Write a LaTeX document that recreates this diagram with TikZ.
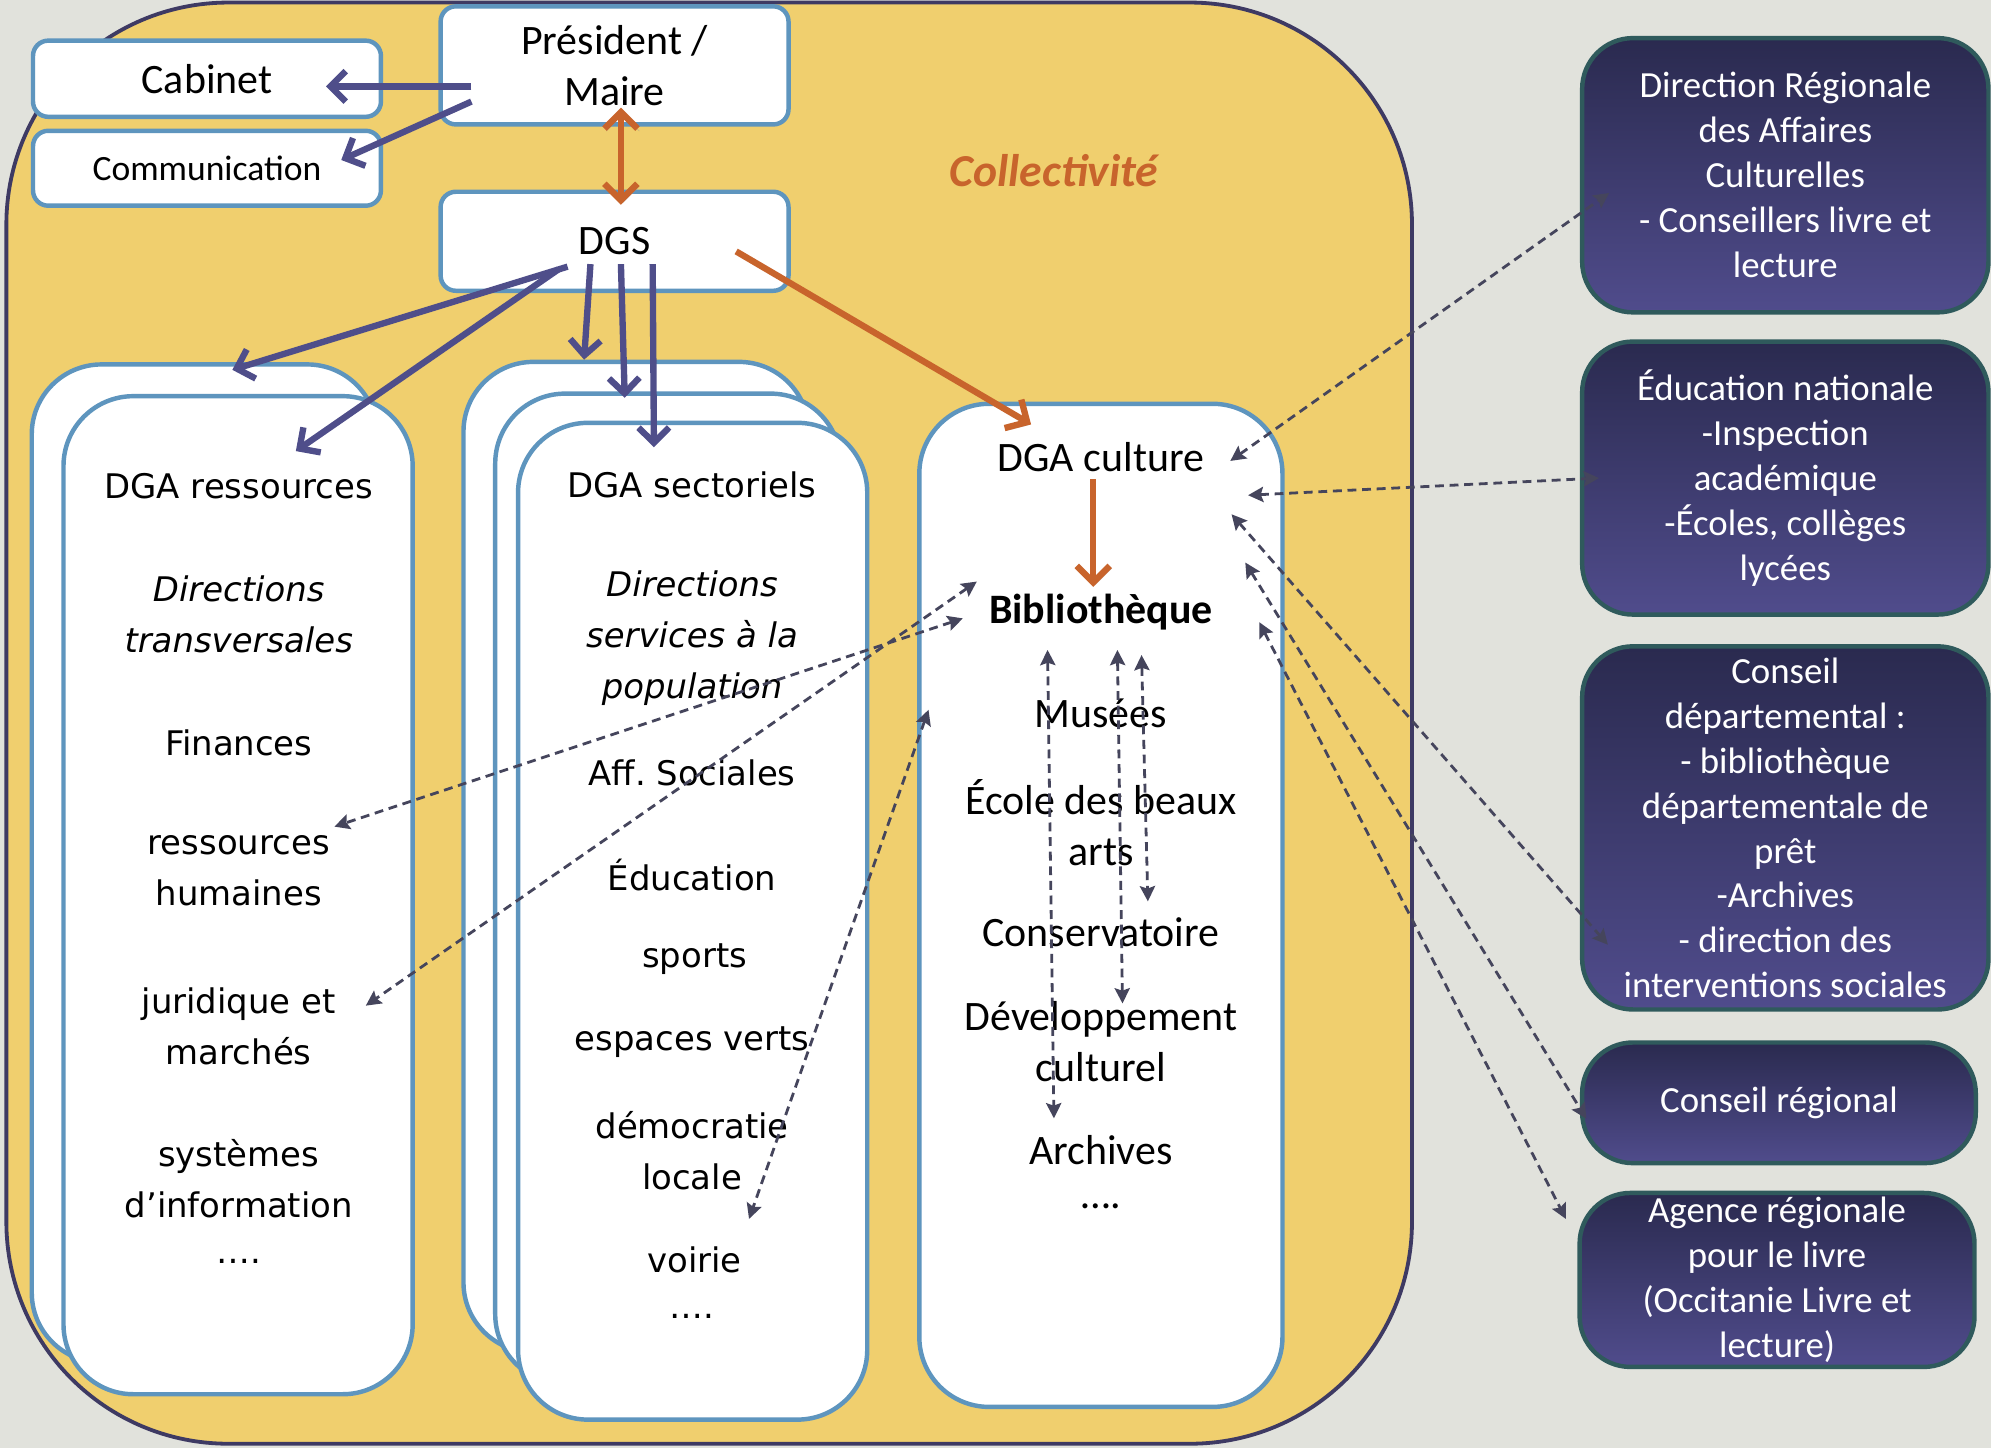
\documentclass[tikz,border=0pt]{standalone}
\usepackage{fontspec}
\setmainfont{Carlito}
\newfontfamily\verdfont{DejaVu Sans}
\usetikzlibrary{arrows.meta}
\begin{document}
\begin{tikzpicture}[x=1pt,y=-1pt,line join=round]
	\definecolor{fond}{RGB}{225,226,220}
	\definecolor{jaune}{RGB}{240,207,110}
	\definecolor{encre}{RGB}{62,58,99}
	\definecolor{cadre}{RGB}{94,149,190}
	\definecolor{violet}{RGB}{79,78,138}
	\definecolor{cuivre}{RGB}{200,100,44}
	\definecolor{tiret}{RGB}{69,69,92}
	\definecolor{nuitA}{RGB}{42,42,79}
	\definecolor{nuitB}{RGB}{80,76,140}
	\definecolor{sarcelle}{RGB}{47,90,92}
	
	\def\fc{\fontsize{33}{40}\selectfont}
	\def\fv{\verdfont\fontsize{26.7}{40}\selectfont}
	\def\fd{\fontsize{29}{35.4}\selectfont}
	
	\tikzset{
		barbe/.tip={Straight Barb[length=12pt,width=24pt]},
		barbec/.tip={Straight Barb[length=13pt,width=26pt]},
		fer/.tip={Stealth[length=12pt,width=12pt,inset=2pt]},
		boite/.style={draw=cadre,line width=3.5pt,fill=white,rounded corners=12pt},
		colonne/.style={draw=cadre,line width=3.5pt,fill=white,rounded corners=55pt,inner sep=0pt},
		externe/.style={draw=sarcelle,line width=3.5pt,top color=nuitA,bottom color=nuitB,
			rounded corners=40pt,text=white,font=\fd,align=center},
		item/.style={align=center,inner sep=5.5pt},
		fleche/.style={draw=violet,line width=5pt,-barbe},
		flechecuivre/.style={draw=cuivre,line width=5pt,-barbec,
			preaction={draw=black!40,opacity=.5,transform canvas={shift={(1.5pt,-2pt)}}}},
		lien/.style={draw=tiret,line width=2.2pt,dash pattern=on 7pt off 4.5pt,fer-fer}
	}
	
	% fond et collectivite
	\fill[fond] (0,0) rectangle (1568,1140);
	\useasboundingbox (0,0) rectangle (1568,1140);
	\draw[encre,line width=3pt,fill=jaune,rounded corners=175pt] (5,2) rectangle (1112,1137);
	\node[font=\fontsize{36}{40}\selectfont\bfseries\itshape,text=cuivre] (collec) at (830,134) {Collectivité};
	
	% direction
	\node[boite,minimum width=274pt,minimum height=93pt,font=\fc,align=center] (pres) at (484,51.5) {Président /\\Maire};
	\node[boite,minimum width=274pt,minimum height=60pt,font=\fc] (cab) at (163,62) {Cabinet};
	\node[boite,minimum width=274pt,minimum height=59pt,font=\fontsize{28}{34}\selectfont] (com) at (163,132.5) {Communication};
	\node[boite,minimum width=274pt,minimum height=78pt,font=\fc] (dgs) at (484,190) {DGS};
	
	% colonnes
	\node[colonne,minimum width=272pt,minimum height=786pt] (resB) at (161,680) {};
	\node[colonne,minimum width=275pt,minimum height=786pt] (resF) at (187.5,705) {};
	\node[colonne,minimum width=272pt,minimum height=780pt] (secB) at (501,675) {};
	\node[colonne,minimum width=272pt,minimum height=780pt] (secM) at (526,700) {};
	\node[colonne,minimum width=275pt,minimum height=785pt] (secF) at (545.5,725.5) {};
	\node[colonne,minimum width=286pt,minimum height=790pt] (cult) at (867,713) {};
	
	% DGA ressources
	\node[item,font=\fv] (resT) at (188,383) {DGA ressources};
	\node[item,font=\fv\itshape] (resD) at (188,484) {Directions\\transversales};
	\node[item,font=\fv] (fin) at (188,585) {Finances};
	\node[item,font=\fv] (rh) at (188,686) {ressources\\humaines};
	\node[item,font=\fv] (jur) at (188,808) {juridique et\\marchés};
	\node[item,font=\fv] (sys) at (188,928) {systèmes\\d’information};
	\node[item,font=\fv] (resP) at (188,993) {….};
	
	% DGA sectoriels
	\node[item,font=\fv] (secT) at (545,382) {DGA sectoriels};
	\node[item,font=\fv\itshape] (secD) at (545,502.5) {Directions\\services à la\\population};
	\node[item,font=\fv] (aff) at (545,609) {Aff.\ Sociales};
	\node[item,font=\fv] (edu) at (545,689) {Éducation};
	\node[item,font=\fv] (spo) at (547,755) {sports};
	\node[item,font=\fv] (esp) at (545,821) {espaces verts};
	\node[item,font=\fv] (dem) at (545,906) {démocratie\\locale};
	\node[item,font=\fv] (voi) at (547,992) {voirie};
	\node[item,font=\fv] (secP) at (545,1037) {….};
	
	% DGA culture
	\node[item,font=\fc] (cultT) at (867,360) {DGA culture};
	\node[item,font=\fc\bfseries] (biblio) at (867,482) {Bibliothèque};
	\node[item,font=\fc] (mus) at (867,562) {Musées};
	\node[item,font=\fc] (eba) at (867,648) {École des beaux\\arts};
	\node[item,font=\fc] (cons) at (867,734) {Conservatoire};
	\node[item,font=\fc] (dev) at (867,820) {Développement\\culturel};
	\node[item,font=\fc] (arch) at (867,906) {Archives};
	\node[item,font=\fc] (cultP) at (867,950) {….};
	
	% partenaires
	\node[externe,minimum width=320pt,minimum height=216pt] (drac) at (1406,138) {Direction Régionale\\des Affaires\\Culturelles\\- Conseillers livre et\\lecture};
	\node[externe,minimum width=320pt,minimum height=215pt] (educ) at (1406,376.5) {Éducation nationale\\-Inspection\\académique\\-Écoles, collèges\\lycées};
	\node[externe,minimum width=320pt,minimum height=286pt] (cdep) at (1406,652) {Conseil\\départemental :\\- bibliothèque\\départementale de\\prêt\\-Archives\\- direction des\\interventions sociales};
	\node[externe,minimum width=310pt,minimum height=95pt] (creg) at (1401,868.5) {Conseil régional};
	\node[externe,minimum width=311pt,minimum height=134pt] (arl) at (1399.5,1008) {Agence régionale\\pour le livre\\(Occitanie Livre et\\lecture)};
	
	% liens hierarchiques
	\draw[fleche] ([xshift=26pt,yshift=-16.5pt]pres.west) -- ([xshift=-45pt,yshift=-6pt]cab.east);
	\draw[fleche] ([xshift=26pt,yshift=-28.5pt]pres.west) -- ([xshift=-33pt,yshift=6.5pt]com.east);
	\draw[fleche] ([xshift=-37pt,yshift=-20pt]dgs.center) -- ([xshift=22pt,yshift=-6pt]resB.north);
	\draw[fleche] ([xshift=-44pt,yshift=-22pt]dgs.center) -- ([xshift=45.5pt,yshift=-45pt]resF.north);
	\foreach \dx/\cible/\sx/\sy in {-19/secB/-41/0,5/secM/-34/-5,30/secF/-30.5/-21}{
		\draw[fleche] ([xshift=\dx pt,yshift=-18pt]dgs.center) -- ([xshift=\sx pt,yshift=\sy pt]\cible.north);
	}
	\draw[flechecuivre,barbec-barbec] ([xshift=5pt,yshift=15pt]pres.south) -- ([xshift=5pt,yshift=-12pt]dgs.north);
	\draw[flechecuivre] ([xshift=-43pt,yshift=-8pt]dgs.east) -- ([xshift=-55pt,yshift=-18pt]cult.north);
	\draw[flechecuivre] ([xshift=-6pt]cultT.south) -- ([xshift=-6pt]biblio.north);
	
	% liens partenaires
	\draw[lien] ([xshift=15pt,yshift=-3pt]cultT.east) -- ([xshift=23pt,yshift=-14pt]drac.west);
	\draw[lien] ([xshift=29pt,yshift=-30pt]cultT.east) -- ([xshift=15pt]educ.west);
	\draw[lien] ([xshift=16pt,yshift=-45pt]cultT.east) -- ([xshift=22pt,yshift=-92pt]cdep.west);
	\draw[lien] ([xshift=20pt,yshift=39pt]biblio.east) -- ([xshift=5pt,yshift=-12.5pt]creg.west);
	\draw[lien] ([xshift=31pt,yshift=-8pt]biblio.east) -- ([xshift=-9pt,yshift=48pt]arl.west);
	
	% liens transversaux
	\draw[lien] ([xshift=-15pt,yshift=-5pt]biblio.west) -- ([xshift=-2pt,yshift=35pt]rh.east);
	\draw[lien] ([xshift=-4pt,yshift=24pt]biblio.west) -- ([xshift=18pt,yshift=16pt]jur.east);
	\draw[lien] ([xshift=9pt,yshift=154pt]cult.west) -- ([yshift=16pt]voi.north east);
	\draw[lien] ([xshift=-42pt,yshift=-10pt]biblio.south) -- ([xshift=-37pt,yshift=8pt]arch.north);
	\draw[lien] ([xshift=13pt,yshift=-10pt]biblio.south) -- ([xshift=17pt,yshift=-7.5pt]dev.north);
	\draw[lien] ([xshift=32pt,yshift=-14pt]biblio.south) -- ([xshift=37pt,yshift=7pt]cons.north);
\end{tikzpicture}
\end{document}
